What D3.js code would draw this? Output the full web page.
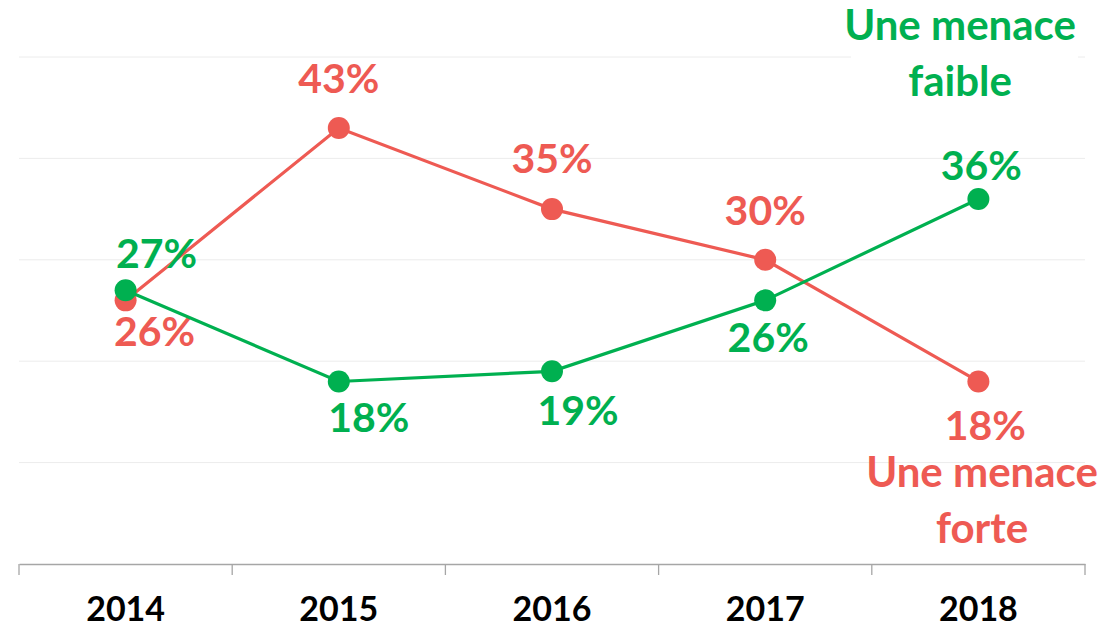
<!DOCTYPE html>
<html>
<head>
<meta charset="utf-8">
<script src="https://cdn.jsdelivr.net/npm/d3@7"></script>
<style>
  body { margin: 0; background: #fff; }
  text { font-family: Lato, "Open Sans", sans-serif; font-weight: bold; }
</style>
</head>
<body>
<div id="d3"></div>
<script>
const years = ["2014", "2015", "2016", "2017", "2018"];
const forte = [26, 43, 35, 30, 18];
const faible = [27, 18, 19, 26, 36];
const gridTicks = [10, 20, 30, 40, 50];

const red = "#ee5a53";
const green = "#00b050";

// label offsets (dx, dy from the point) for each value label
const forteOffsets = [[29, 46], [0, -35], [0, -36], [0, -35], [7, 59]];
const faibleOffsets = [[31, -22], [30, 51], [26, 54], [3, 52], [3, -19]];

const width = 1119;
const height = 627;

const svg = d3
  .select("#d3")
  .append("svg")
  .attr("width", width)
  .attr("height", height);

const x = d3.scaleBand().domain(years).range([19, 1085]);
const y = d3.scaleLinear().domain([0, 50]).range([564, 57]);

// gridlines
svg
  .append("g")
  .selectAll("line")
  .data(gridTicks)
  .enter()
  .append("line")
  .attr("x1", 19)
  .attr("x2", 1085)
  .attr("y1", (d) => y(d))
  .attr("y2", (d) => y(d))
  .attr("stroke", "#ececec")
  .attr("stroke-width", 1);

// axis
const axis = svg
  .append("g")
  .attr("transform", `translate(0, ${y(0)})`)
  .call(d3.axisBottom(x).tickSize(0).tickPadding(0));
axis.select(".domain").attr("stroke", "#a6a6a6").attr("stroke-width", 1.3);
axis
  .selectAll(".tick text")
  .attr("y", 57)
  .attr("dy", 0)
  .style("font-size", "34px")
  .style("font-family", "Lato, sans-serif")
  .style("font-weight", "bold")
  .attr("fill", "#000");

// boundary ticks between categories
axis
  .selectAll(".sep")
  .data(d3.range(years.length + 1))
  .enter()
  .append("line")
  .attr("x1", (i) => 19 + i * x.step())
  .attr("x2", (i) => 19 + i * x.step())
  .attr("y1", 0)
  .attr("y2", 11)
  .attr("stroke", "#a6a6a6")
  .attr("stroke-width", 1.3);

const line = d3
  .line()
  .x((d, i) => x(years[i]) + x.bandwidth() / 2)
  .y((d) => y(d));

function drawSeries(values, color, offsets) {
  svg
    .append("path")
    .datum(values)
    .attr("d", line)
    .attr("fill", "none")
    .attr("stroke", color)
    .attr("stroke-width", 3.2);

  svg
    .append("g")
    .selectAll("circle")
    .data(values)
    .enter()
    .append("circle")
    .attr("cx", (d, i) => x(years[i]) + x.bandwidth() / 2)
    .attr("cy", (d) => y(d))
    .attr("r", 11)
    .attr("fill", color);

  svg
    .append("g")
    .selectAll("text")
    .data(values)
    .enter()
    .append("text")
    .attr("x", (d, i) => x(years[i]) + x.bandwidth() / 2 + offsets[i][0])
    .attr("y", (d, i) => y(d) + offsets[i][1])
    .attr("text-anchor", "middle")
    .style("font-size", "41px")
    .attr("fill", color)
    .text((d) => d + "%");
}

drawSeries(forte, red, forteOffsets);
drawSeries(faible, green, faibleOffsets);

// series labels
svg.append("rect").attr("x", 851).attr("y", 50).attr("width", 227).attr("height", 14).attr("fill", "#fff");

function seriesLabel(lines, color, cx, y0) {
  svg
    .append("text")
    .attr("text-anchor", "middle")
    .attr("fill", color)
    .style("font-size", "42px")
    .selectAll("tspan")
    .data(lines)
    .enter()
    .append("tspan")
    .attr("x", cx)
    .attr("y", (d, i) => y0 + i * 56)
    .text((d) => d);
}

seriesLabel(["Une menace", "faible"], green, 960, 40);
seriesLabel(["Une menace", "forte"], red, 982, 487);
</script>
</body>
</html>
